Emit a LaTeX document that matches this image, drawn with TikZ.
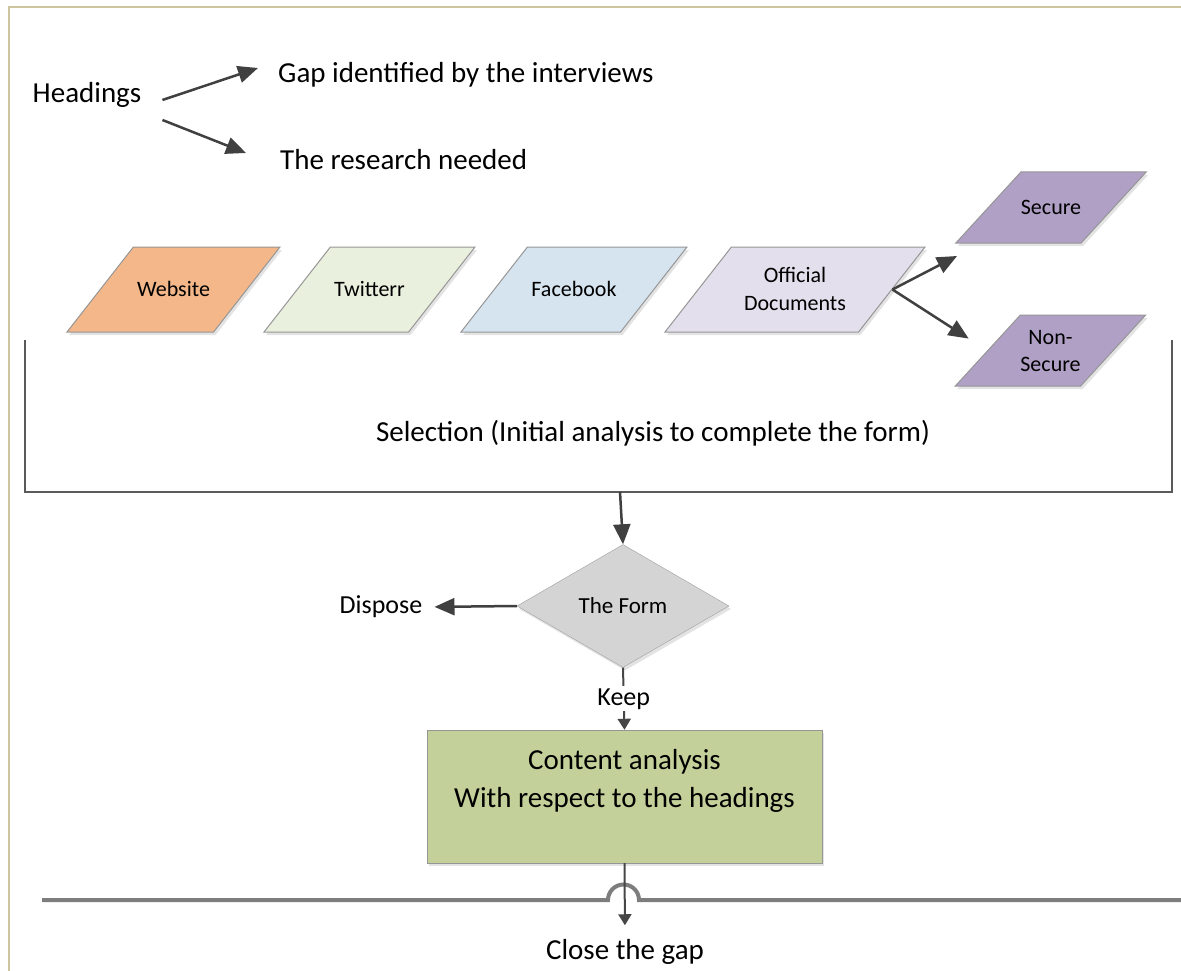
\documentclass[tikz,border=0pt]{standalone}
\usepackage{fontspec}
\setmainfont{Carlito}
\usetikzlibrary{arrows.meta,shapes.geometric,shadows,calc}

\begin{document}
\begin{tikzpicture}[x=1pt,y=1pt,yscale=-1,xscale=1,
  every node/.style={inner sep=2pt,font=\fontsize{29}{35}\selectfont},
  arr/.style={-{Triangle[length=20pt,width=17pt]},line width=2.5,color={rgb, 255:red, 64; green, 64; blue, 64 }},
  smallarr/.style={-{Triangle[length=11pt,width=13pt]},line width=2,color={rgb, 255:red, 70; green, 70; blue, 70 }},
  shade/.style={drop shadow={shadow xshift=2pt,shadow yshift=-3pt,opacity=0.22}},
  io/.style={trapezium,trapezium left angle=52,trapezium right angle=128,trapezium stretches body=true,
    draw={rgb, 255:red, 150; green, 150; blue, 150 },line width=1,inner sep=0,
    text height=49.5pt,text depth=35.5pt,align=center,font=\fontsize{22}{28}\selectfont,shade},
  two lines/.style={text height=63.5pt,text depth=21.5pt},
  small io/.style={io,trapezium left angle=47.5,trapezium right angle=132.5,text height=42.5pt,text depth=28.5pt,
    fill={rgb, 255:red, 176; green, 160; blue, 198 }},
]
\useasboundingbox (0,0) rectangle (1181,971);

%Frame
\draw [color={rgb, 255:red, 206; green, 196; blue, 160 },line width=2] (9,971) -- (9,7) -- (1181,7) ;

%Headings
\node (hd) at (87,95) {Headings};
\node [anchor=west] (gap) at (276,75) {Gap identified by the interviews};
\node [anchor=west] (res) at (278,160) {The research needed};
\draw [arr] ($(hd.east)+(19,5)$) -- ($(gap.west)+(-18,-7)$) ;
\draw [arr] ($(hd.east)+(19,25)$) -- ($(res.west)+(-32,-7)$) ;

%Sources
\node [io,minimum width=213,fill={rgb, 255:red, 243; green, 183; blue, 137 }] (web) at (173.5,289.5) {Website};
\node [io,minimum width=211,fill={rgb, 255:red, 234; green, 240; blue, 222 }] (tw) at (369.5,289.5) {Twitterr};
\node [io,minimum width=226,fill={rgb, 255:red, 214; green, 228; blue, 240 }] (fb) at (574,289.5) {Facebook};
\node [io,two lines,minimum width=260,fill={rgb, 255:red, 228; green, 223; blue, 236 }] (off) at (795,289.5) {Official\\Documents};
\node [small io,minimum width=188] (sec) at (1051,207.5) {Secure};
\node [small io,minimum width=185,text height=56pt,text depth=15pt,font=\fontsize{22}{27}\selectfont] (nsec) at (1050.5,350.5) {Non-\\Secure};
\coordinate (secin) at (957,256);
\draw [arr] (off.east) -- (secin) ;
\draw [arr,shorten >=22pt] (off.east) -- (nsec.west) ;

%Selection bracket
\draw [color={rgb, 255:red, 90; green, 90; blue, 90 },line width=2] (25,340) -- (25,492) -- (1172,492) -- (1172,340) ;
\coordinate (selbot) at (620,492);
\node (sel) at (653,433) {Selection (Initial analysis to complete the form)};

%The form
\node [diamond,aspect=1.72,minimum width=212,minimum height=123,inner sep=0,shade,
  fill={rgb, 255:red, 212; green, 212; blue, 212 },draw={rgb, 255:red, 160; green, 160; blue, 160 },
  font=\fontsize{23}{28}\selectfont] (form) at (623,606) {The Form};
\node [font=\fontsize{26}{30}\selectfont] (dis) at (381,607) {Dispose};
\draw [arr] (selbot) -- (form.north) ;
\draw [arr,shorten >=10pt] (form.west) -- (dis.east) ;

%Content analysis
\node [draw={rgb, 255:red, 150; green, 150; blue, 150 },fill={rgb, 255:red, 196; green, 208; blue, 153 },
  minimum width=395,minimum height=133,shade] (ca) at (624.5,796.5) {};
\node [anchor=north,align=center,font=\fontsize{29}{38}\selectfont] (catext) at ($(ca.north)+(0,17)$) {Content analysis\\With respect to the headings};
\draw [smallarr] (form.south) -- node [fill=white,text=black,font=\fontsize{26}{30}\selectfont] (keep) {Keep} (ca.north) ;

%Close the gap
\draw [color={rgb, 255:red, 125; green, 125; blue, 125 },line width=4] (42,900) -- (608,900) arc (180:360:15.5) -- (1181,900) ;
\node (close) at (625,952) {Close the gap};
\draw [smallarr,shorten >=12pt] (ca.south) -- (close.north) ;

\end{tikzpicture}
\end{document}
